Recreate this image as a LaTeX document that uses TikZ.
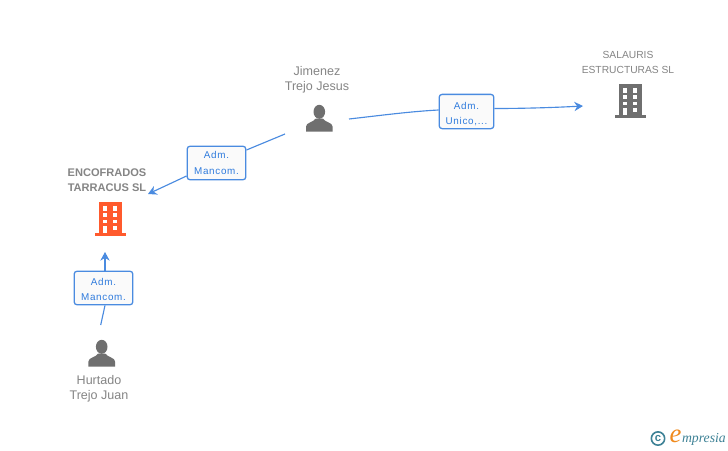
\documentclass[tikz,border=0pt]{standalone}
\usepackage{fontspec}
\setmainfont{Liberation Sans}
\newfontfamily\logofont{Liberation Serif}
\usetikzlibrary{arrows.meta}
\definecolor{linkblue}{HTML}{4A8BE0}
\definecolor{labelblue}{HTML}{2F7BDD}
\definecolor{icongray}{HTML}{6F6F6F}
\definecolor{textgray}{HTML}{858585}
\definecolor{mainorange}{HTML}{FF5A2D}
\definecolor{logoteal}{HTML}{3E8296}
\definecolor{logoorange}{HTML}{F08A1D}
\tikzset{
  rolebox/.style={draw=linkblue,line width=0.95pt,rounded corners=2.2pt,fill=black!2,inner sep=0pt,
    text=labelblue,font=\fontsize{7.4pt}{11.3pt}\selectfont\addfontfeature{LetterSpace=7},align=center,anchor=center},
  entity/.style={text=textgray,font=\fontsize{9.4pt}{11.4pt}\selectfont,align=center,inner sep=0pt},
  capsentity/.style={text=textgray,font=\fontsize{7.7pt}{11.4pt}\selectfont,align=center,inner sep=0pt},
  mainentity/.style={text=textgray,font=\fontsize{8.3pt}{11.4pt}\selectfont\bfseries,align=center,inner sep=0pt},
  link/.style={draw=linkblue,line width=0.85pt},
  linkarrow/.style={link,-{Stealth[length=6.5pt,width=7pt]}},
  iconbox/.style={inner sep=0pt,minimum width=1pt,minimum height=1pt},
}
\newcommand{\buildingicon}[3]{%
  \begin{scope}[shift={(#1,#2)}]
    \fill[#3] (-11,0) rectangle (11.2,33.6);
    \fill[#3] (-15.7,31) rectangle (16,34.2);
    \fill[white] (-7,4.2) rectangle (-2.9,8.7);
    \fill[white] (2.4,4.2) rectangle (6.6,8.7);
    \fill[white] (-7,11.3) rectangle (-2.9,15.4);
    \fill[white] (2.4,11.3) rectangle (6.6,15.4);
    \fill[white] (-7,18) rectangle (-2.9,21.4);
    \fill[white] (2.4,18) rectangle (6.6,21.4);
    \fill[white] (-7,24) rectangle (-2.9,31);
    \fill[white] (2.4,24) rectangle (6.6,28);
  \end{scope}}
\newcommand{\personicon}[2]{%
  \begin{scope}[shift={(#1,#2)}]
    \fill[icongray] (0,6.8) ellipse (5.8 and 7);
    \fill[icongray] (-13.3,26.7) -- (-13.3,21.5) .. controls (-13.3,17.5) and (-6,17.5) .. (-3.5,13.5)
      -- (3.5,13.5) .. controls (6,17.5) and (13.3,17.5) .. (13.3,21.5) -- (13.3,26.7) -- cycle;
  \end{scope}}
\begin{document}
\begin{tikzpicture}[x=0.75pt,y=-0.75pt]
\useasboundingbox (0,0) rectangle (728,450);
\fill[white] (0,0) rectangle (728,450);

% icons
\buildingicon{110.3}{202}{mainorange}
\buildingicon{630.3}{84}{icongray}
\personicon{319.3}{105}
\personicon{101.7}{340}

% anchors of the icons
\node[iconbox] (jimenez) at (349,119) {};
\node[iconbox] (jimenezw) at (285,134) {};
\node[iconbox] (salauris) at (583,106) {};
\node[iconbox] (encofrados) at (148,194) {};
\node[iconbox] (encofradoss) at (105,252) {};
\node[iconbox] (hurtado) at (100.7,325) {};

% texts
\node[entity] (tjimenez) at (317,79.5) {Jimenez\\Trejo Jesus};
\node[capsentity] (tsalauris) at (628,62.5) {SALAURIS\\ESTRUCTURAS SL};
\node[mainentity] (tencofrados) at (107,180.5) {ENCOFRADOS\\TARRACUS SL};
\node[entity] (thurtado) at (99,389) {Hurtado\\Trejo Juan};

% role boxes
\node[rolebox,minimum width=41pt,minimum height=25.7pt] (r1) at (466.5,111.5) {\rule{0pt}{8.5pt}Adm.\\Unico,...};
\node[rolebox,minimum width=44pt,minimum height=25.2pt] (r2) at (216.5,163) {Adm.\\Mancom.};
\node[rolebox,minimum width=44pt,minimum height=25.2pt] (r3) at (103.5,288) {\rule{0pt}{7pt}Adm.\\Mancom.};

% connectors
\draw[link] (jimenez.center) .. controls (380,115.5) and (410,111.5) .. (r1.west |- 0,110);
\draw[linkarrow] (r1.east |- 0,108.5) .. controls (525,108.5) and (555,107.5) .. (salauris.center);
\draw[link] (jimenezw.center) -- (r2.east |- 0,150);
\draw[linkarrow] (r2.west |- 0,176) -- (encofrados.center);
\draw[link] (hurtado.center) -- (r3.south -| 105,0);
\draw[linkarrow] (r3.north -| 105,0) -- (encofradoss.center);

% logo
\node[circle,draw=logoteal,line width=1.2pt,inner sep=0pt,minimum size=10pt,text=logoteal,font=\fontsize{8.5pt}{9pt}\selectfont\bfseries] (copyr) at (658,438.5) {c};
\node[inner sep=0pt,text=logoorange,font=\logofont\itshape\fontsize{20pt}{20pt}\selectfont] (logoe) at (675.5,436.5) {e};
\node[inner sep=0pt,text=logoteal,anchor=west,font=\logofont\itshape\fontsize{10.3pt}{11pt}\selectfont] (logot) at (681.8,439) {mpresia};
\end{tikzpicture}
\end{document}
